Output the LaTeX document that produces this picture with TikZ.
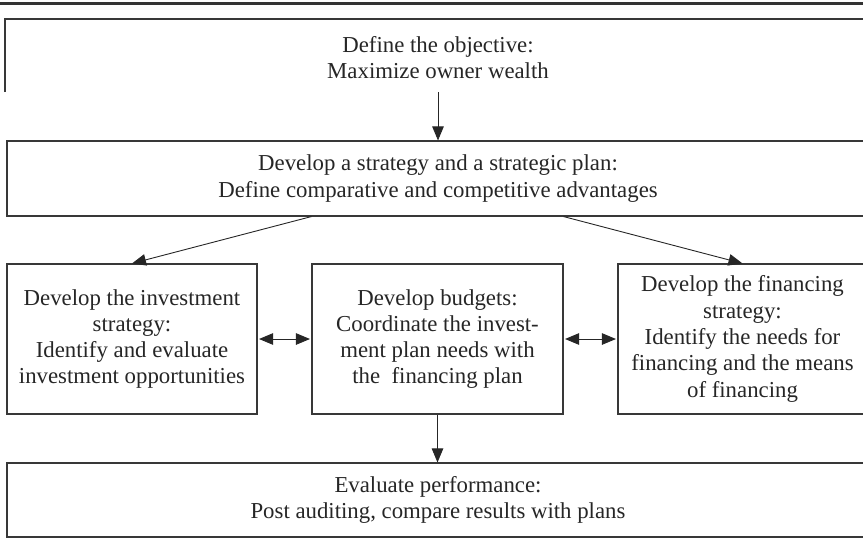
\documentclass[tikz,border=0pt]{standalone}
\usepackage{fontspec}
\setmainfont{Liberation Serif}
\usetikzlibrary{arrows.meta}
\begin{document}
\begin{tikzpicture}[x=1pt,y=1pt,
  box/.style={draw=black!78, line width=1.1pt, rectangle, inner sep=0pt, align=center,
    font=\fontsize{22.8}{26.3}\selectfont, text=black!85},
  txt/.style={inner sep=0pt, align=center, font=\fontsize{22.8}{26.3}\selectfont, text=black!85},
  arr/.style={-{Triangle[length=14pt,width=11.5pt]}, line width=0.9pt, draw=black!85},
  darr/.style={{Triangle[length=14pt,width=11.5pt]}-{Triangle[length=14pt,width=11.5pt]}, line width=0.9pt, draw=black!85, shorten <=1.5pt, shorten >=1.5pt}]
\useasboundingbox (0,0) rectangle (863,-547);
\clip (0,0) rectangle (863,-547);
% top rule
\draw[line width=2.6pt, black!80] (0,-3.3) -- (863,-3.3);
% top (cropped) box
\draw[draw=black!78, line width=1.1pt] (5,-92) -- (5,-19) -- (880,-19);
\node[txt] (obj) at (438,-57.5) {Define the objective:\\Maximize owner wealth};
\coordinate (objbot) at (438,-92);
% strategy box
\node[box, minimum width=862pt, minimum height=75pt] (strat) at (438,-178.5)
  {Develop a strategy and a strategic plan:\\Define comparative and competitive advantages};
% middle row
\node[box, minimum width=250pt, minimum height=150pt] (inv) at (132,-339)
  {Develop the investment\\strategy:\\Identify and evaluate\\investment opportunities};
\node[box, minimum width=251pt, minimum height=150pt] (bud) at (437.5,-339)
  {Develop budgets:\\Coordinate the invest-\\ment plan needs with\\the\ \ financing plan};
\node[box, minimum width=249pt, minimum height=150pt] (fin) at (742.5,-339)
  {Develop the financing\\strategy:\\Identify the needs for\\financing and the means\\of financing};
% evaluation box
\node[box, minimum width=862pt, minimum height=74pt] (eval) at (438,-500)
  {Evaluate performance:\\Post auditing, compare results with plans};
% connectors
\draw[arr] (objbot) -- (strat.north);
\draw[arr] (strat.south -| bud.west) -- (inv.north);
\draw[arr] (strat.south -| bud.east) -- (fin.north);
\draw[darr] (inv.east) -- (bud.west);
\draw[darr] (bud.east) -- (fin.west);
\draw[arr] (bud.south) -- (bud.south |- eval.north);
\end{tikzpicture}
\end{document}
